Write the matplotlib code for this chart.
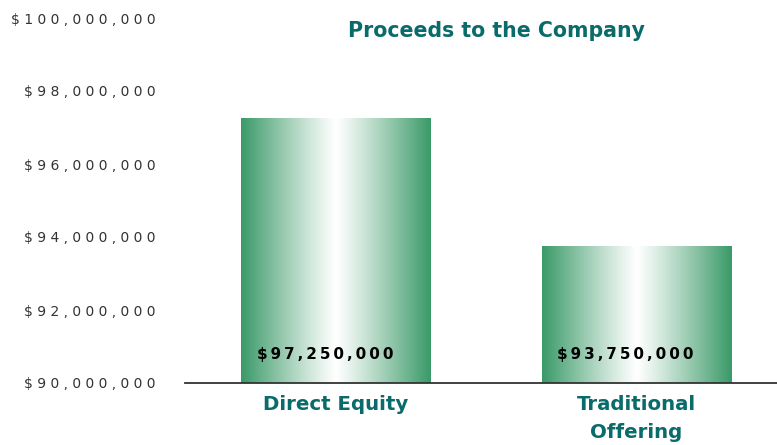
import matplotlib
matplotlib.use("Agg")
import matplotlib.pyplot as plt
import numpy as np

categories = ["Direct Equity", "Traditional\nOffering"]
values = [97250000, 93750000]
value_labels = ["$97,250,000", "$93,750,000"]
y_ticks = [90000000, 92000000, 94000000, 96000000, 98000000, 100000000]
title = "Proceeds to the Company"

Y_MIN, Y_MAX = 90000000, 100000000
TEAL = "#0a6b6b"
GREEN = np.array([58, 154, 104]) / 255.0
THIN = "\u2009"

def spaced(s, sep):
    return sep.join(list(s))

fig = plt.figure(figsize=(7.77, 4.45), dpi=100)
ax = fig.add_axes([185/777, (445-383)/445, 1 - 185/777, (383-18)/445])

x = np.arange(len(categories))
bars = ax.bar(x, [v - Y_MIN for v in values], bottom=Y_MIN, width=0.629,
              facecolor="none", edgecolor="none", zorder=2)

# horizontal gradient green-white-green
u = np.linspace(0, 1, 256)
t = np.abs(2 * u - 1) ** 1.1
grad = (1 - t)[:, None] * np.ones(3)[None, :] + t[:, None] * GREEN[None, :]
grad_img = grad[None, :, :]
for b in bars:
    x0, w = b.get_x(), b.get_width()
    y0, h = b.get_y(), b.get_height()
    im = ax.imshow(grad_img, extent=[x0, x0 + w, y0, y0 + h], aspect="auto",
                   zorder=2, interpolation="bilinear")
    im.set_clip_path(b)

for xi, lab in zip(x, value_labels):
    ax.text(xi - 0.035, Y_MIN + 780000, spaced(lab, THIN), ha="center", va="center",
            fontsize=10.9, fontweight="bold", color="black",
            family=["DejaVu Sans"], zorder=3)

ax.set_xlim(-0.501, 1.469)
ax.set_ylim(Y_MIN, Y_MAX)
ax.set_yticks(y_ticks)
ax.set_yticklabels([spaced("${:,}".format(v), " ") for v in y_ticks],
                   fontsize=10, color="#333333", family=["DejaVu Sans"])
ax.tick_params(axis="y", length=0, pad=21)
ax.set_xticks(x)
ax.set_xticklabels(categories, fontsize=14.2, fontweight="bold", color=TEAL,
                   linespacing=1.55)
ax.tick_params(axis="x", length=0, pad=9)

for s in ["top", "right", "left"]:
    ax.spines[s].set_visible(False)
ax.spines["bottom"].set_color("#333333")
ax.spines["bottom"].set_linewidth(1.3)
ax.set_autoscale_on(False)

fig.text(497/777, 1 - 31/445, title, ha="center", va="center",
         fontsize=14.8, fontweight="bold", color=TEAL)

fig.savefig("out.png", dpi=100)
